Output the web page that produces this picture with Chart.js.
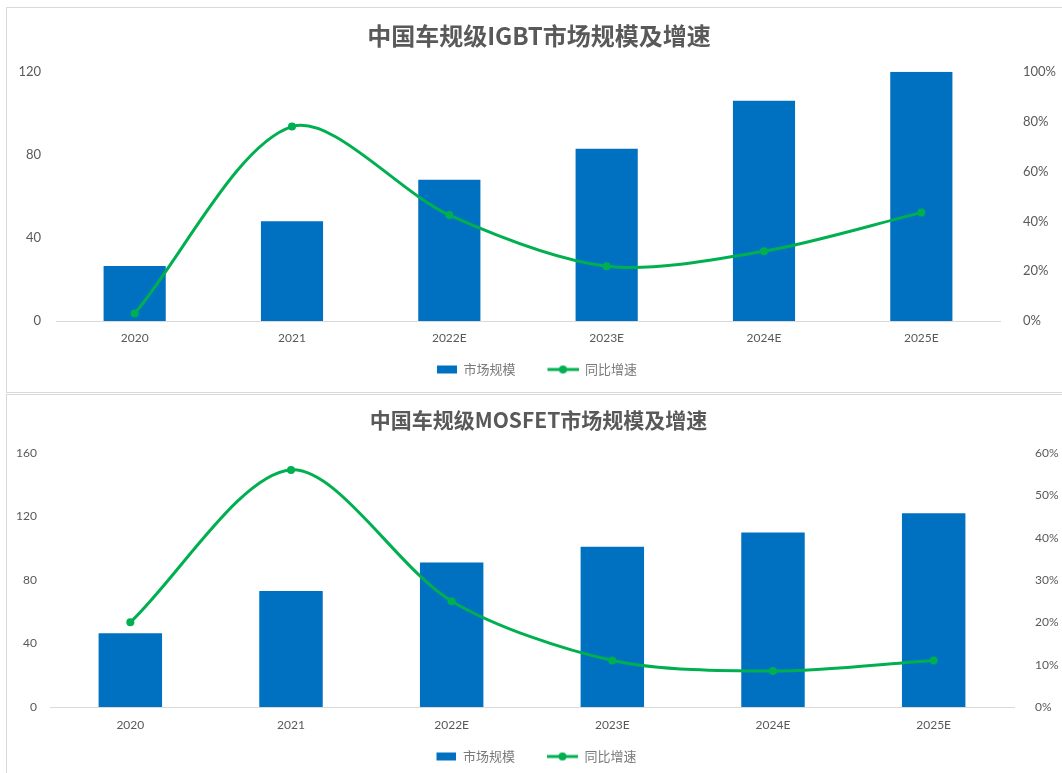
<!DOCTYPE html>
<html>
<head>
<meta charset="utf-8">
<script src="https://cdn.jsdelivr.net/npm/chart.js@4.4.0/dist/chart.umd.min.js"></script>
<style>
  html, body { margin: 0; padding: 0; background: #fff; width: 1062px; height: 773px; overflow: hidden; }
  .frame { position: absolute; border: 1px solid #d9d9d9; box-sizing: border-box; }
  canvas { position: absolute; }
</style>
</head>
<body>
<div class="frame" style="left:6px; top:7px; width:1080px; height:386px;"></div>
<div class="frame" style="left:6px; top:394px; width:1080px; height:400px;"></div>
<canvas id="igbt" width="1055" height="384" style="left:7px; top:8px;"></canvas>
<canvas id="mosfet" width="1055" height="378" style="left:7px; top:395px;"></canvas>

<script>
// Categories
const years = ['2020', '2021', '2022E', '2023E', '2024E', '2025E'];

// 车规级 IGBT: market size and year-on-year growth (%)
const igbtMarket = [26.5, 48, 68, 83, 106, 120];
const igbtGrowth = [3, 78, 42.5, 22, 28, 43.5];

// 车规级 MOSFET: market size and year-on-year growth (%)
const mosfetMarket = [46.5, 73, 91, 101, 110, 122];
const mosfetGrowth = [20, 56, 25, 11, 8.5, 11];

// Axis tick values
const igbtLeftTicks = [0, 40, 80, 120];
const igbtRightTicks = [0, 20, 40, 60, 80, 100];
const mosfetLeftTicks = [0, 40, 80, 120, 160];
const mosfetRightTicks = [0, 10, 20, 30, 40, 50, 60];

// Series names
const seriesNames = ['市场规模', '同比增速'];

const BAR = '#0070c0';
const LINE = '#00b050';
const TEXT = '#595959';
const LEGEND_TEXT = '#7a7a7a';
const AXIS = '#d9d9d9';
const LATIN = 'Lato, "Noto Sans CJK SC", sans-serif';
const CJK = '"Noto Sans CJK SC", "Noto Sans", sans-serif';

// Small legend swatches: a filled block for the bars, a line with a dot for the line
function swatch(kind) {
  const c = document.createElement('canvas');
  c.width = 53; c.height = 10;
  const g = c.getContext('2d');
  if (kind === 'bar') {
    g.fillStyle = BAR;
    g.fillRect(33, 1, 20, 8);
  } else {
    g.strokeStyle = LINE;
    g.lineWidth = 3;
    g.beginPath(); g.moveTo(22, 5); g.lineTo(53, 5); g.stroke();
    g.fillStyle = LINE;
    g.beginPath(); g.arc(37.5, 5, 4, 0, Math.PI * 2); g.fill();
  }
  return c;
}
const swatches = [swatch('bar'), swatch('line')];

function tickList(values) {
  return (scale) => { scale.ticks = values.map(v => ({ value: v })); };
}

function makeChart(id, cfg) {
  return new Chart(document.getElementById(id), {
    data: {
      labels: years,
      datasets: [
        {
          type: 'bar', label: seriesNames[0], data: cfg.market,
          backgroundColor: BAR, borderWidth: 0, yAxisID: 'y', order: 2,
          barPercentage: 0.395, categoryPercentage: 1
        },
        {
          type: 'line', label: seriesNames[1], data: cfg.growth,
          borderColor: LINE, backgroundColor: LINE, borderWidth: 3,
          pointRadius: 4, pointBackgroundColor: LINE, pointBorderWidth: 0,
          tension: 0.3, yAxisID: 'y1', order: 1
        }
      ]
    },
    plugins: [{
      // move the legend row sideways after layout
      id: 'legendShift',
      afterLayout(chart) {
        const lg = chart.legend;
        if (lg) { lg.left += cfg.legendShift; lg.right += cfg.legendShift; }
      }
    }],
    options: {
      responsive: false,
      animation: false,
      events: [],
      layout: { padding: { left: cfg.padLeft, right: 0, top: 0, bottom: cfg.padBottom } },
      plugins: {
        tooltip: { enabled: false },
        title: {
          display: true, text: cfg.title, color: TEXT,
          font: { family: CJK, size: cfg.titleSize, weight: 'bold' },
          padding: { top: cfg.titleTop, bottom: cfg.titleBottom }
        },
        legend: {
          position: 'bottom', fullSize: false,
          labels: {
            usePointStyle: true, pointStyleWidth: 53, padding: 10,
            color: LEGEND_TEXT, font: { family: CJK, size: 13 },
            generateLabels: (chart) => chart.data.datasets.map((ds, i) => ({
              text: ds.label, pointStyle: swatches[i], datasetIndex: i,
              hidden: false, lineWidth: 0, fillStyle: 'transparent',
              strokeStyle: 'transparent', fontColor: LEGEND_TEXT
            }))
          }
        }
      },
      scales: {
        x: {
          grid: { display: false, drawTicks: false },
          border: { display: true, color: AXIS, width: 1 },
          ticks: { color: TEXT, font: { family: LATIN, size: 12 }, padding: cfg.xPad, maxRotation: 0, autoSkip: false },
          afterFit: (s) => { s.height = cfg.xHeight; }
        },
        y: {
          position: 'left', min: 0, max: cfg.leftTicks[cfg.leftTicks.length - 1],
          grid: { display: false, drawTicks: false },
          border: { display: false },
          ticks: { color: TEXT, font: { family: LATIN, size: cfg.tickSize }, padding: cfg.leftPad },
          afterBuildTicks: tickList(cfg.leftTicks),
          afterFit: (s) => { s.width = cfg.leftW; }
        },
        y1: {
          position: 'right', min: 0, max: cfg.rightTicks[cfg.rightTicks.length - 1],
          grid: { display: false, drawTicks: false },
          border: { display: false },
          ticks: { color: TEXT, font: { family: LATIN, size: cfg.tickSize }, padding: cfg.rightPad, callback: (v) => v + '%' },
          afterBuildTicks: tickList(cfg.rightTicks),
          afterFit: (s) => { s.width = cfg.rightW; }
        }
      }
    }
  });
}

makeChart('igbt', {
  title: '中国车规级IGBT市场规模及增速',
  market: igbtMarket, growth: igbtGrowth,
  leftTicks: igbtLeftTicks, rightTicks: igbtRightTicks,
  titleSize: 24, titleTop: 13.5, titleBottom: 21.5,
  padLeft: 9, padBottom: 6, xHeight: 32, xPad: 10,
  leftW: 40, leftPad: 15, rightW: 62, rightPad: 23, tickSize: 13,
  legendShift: -7.5
});

makeChart('mosfet', {
  title: '中国车规级MOSFET市场规模及增速',
  market: mosfetMarket, growth: mosfetGrowth,
  leftTicks: mosfetLeftTicks, rightTicks: mosfetRightTicks,
  titleSize: 21, titleTop: 12.5, titleBottom: 20.3,
  padLeft: 8, padBottom: 0, xHeight: 33, xPad: 11,
  leftW: 35, leftPad: 13, rightW: 48, rightPad: 21, tickSize: 12,
  legendShift: -12
});
</script>
</body>
</html>
